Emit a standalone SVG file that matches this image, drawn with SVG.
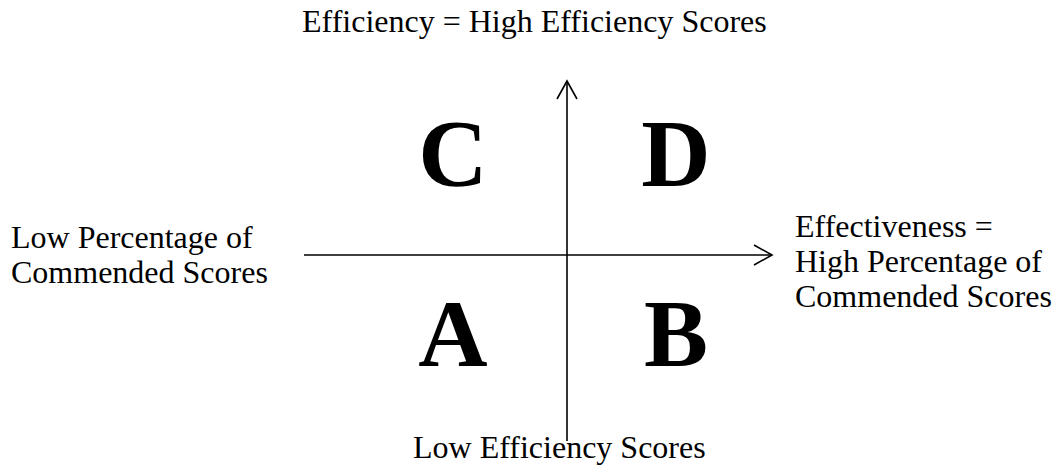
<svg xmlns="http://www.w3.org/2000/svg" width="1056" height="465" viewBox="0 0 1056 465">
<style>
.lbl{font-family:"Liberation Serif","Times New Roman",serif;font-size:32px;fill:#000}
.big{font-family:"Liberation Serif","Times New Roman",serif;font-size:96px;font-weight:bold;fill:#000;text-anchor:middle}
.ax{stroke:#000;stroke-width:1.6;fill:none}
</style>
<rect width="1056" height="465" fill="#fff"/>
<g id="connectors">
<line class="ax" x1="567" y1="441" x2="567" y2="81"/>
<polyline class="ax" points="557,99 567,81 577,99"/>
<line class="ax" x1="304" y1="255" x2="772" y2="255"/>
<polyline class="ax" points="754,245 772,255 754,265"/>
</g>
<g id="title"><text class="lbl" x="302" y="32">Efficiency = High Efficiency Scores</text></g>
<g id="left"><text class="lbl" x="11" y="248">Low Percentage of</text><text class="lbl" x="11" y="283">Commended Scores</text></g>
<g id="right"><text class="lbl" x="795" y="237">Effectiveness =</text><text class="lbl" x="795" y="272">High Percentage of</text><text class="lbl" x="795" y="307">Commended Scores</text></g>
<g id="bottom"><text class="lbl" x="413" y="458">Low Efficiency Scores</text></g>
<g id="C"><text class="big" x="453" y="186">C</text></g>
<g id="D"><text class="big" x="676" y="186">D</text></g>
<g id="A"><text class="big" x="453" y="366">A</text></g>
<g id="B"><text class="big" x="676" y="366">B</text></g>
</svg>
